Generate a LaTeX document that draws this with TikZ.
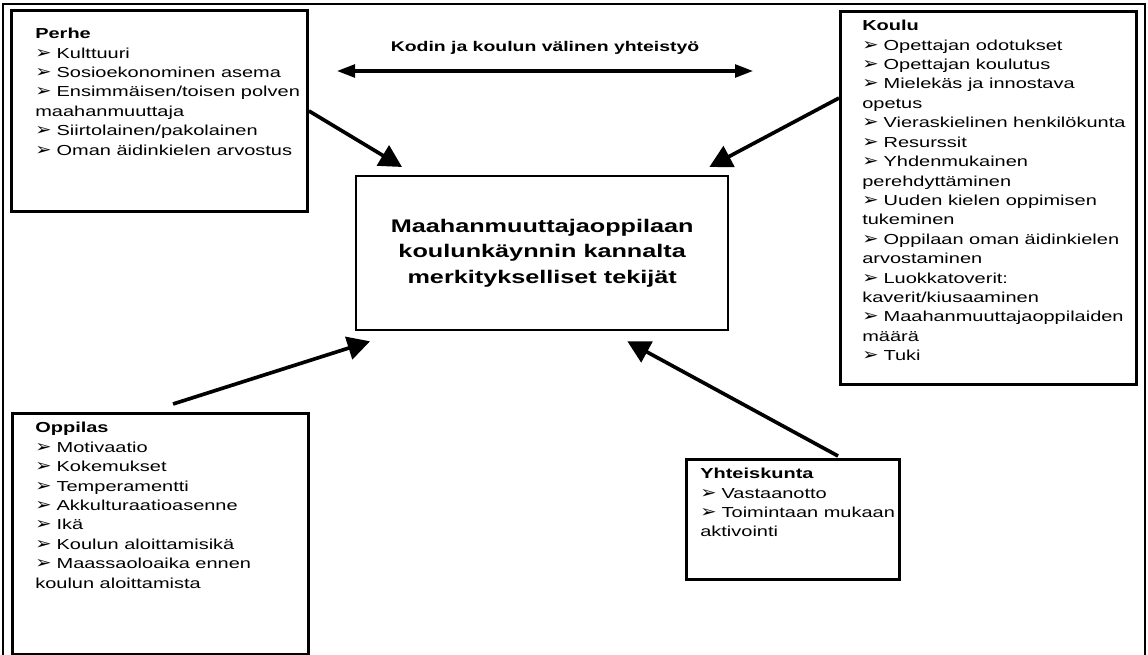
\documentclass[tikz,border=0pt]{standalone}
\usepackage{fontspec}
\setmainfont{Liberation Sans}[FakeStretch=1.38]
\newfontfamily\dingfont{DejaVu Sans}[FakeStretch=1.15]
\usetikzlibrary{arrows.meta,positioning,calc}

\newcommand{\itm}{{\dingfont\fontsize{12}{12}\selectfont ➢}\hspace{0.35em}}

\begin{document}
\begin{tikzpicture}[
    x=0.025cm, y=-0.025cm,
    factor/.style   = {rectangle, draw=black, line width=2pt, fill=white,
                       anchor=north west, inner sep=0pt},
    listtext/.style = {anchor=north west, inner sep=0pt, align=left,
                       font=\fontsize{10.3}{13.8}\selectfont},
    arrow/.style    = {-{Triangle[length=0.56cm, width=0.58cm]}, line width=2.6pt},
    twoway/.style   = {{Triangle[length=0.45cm, width=0.32cm]}-{Triangle[length=0.45cm, width=0.32cm]},
                       line width=2.2pt}
]
\useasboundingbox (0,0) rectangle (1148,655);

% outer frame (open at the bottom)
\draw[line width=1.8pt] (3,655) |- (1145,4) -- (1145,655);

% centre
\node[factor, line width=1.6pt, minimum width=9.3cm, minimum height=3.85cm,
      align=center, font=\fontsize{13}{17.9}\selectfont\bfseries]
      (cmain) at (355,175) {Maahanmuuttajaoppilaan\\
                            koulunkäynnin kannalta\\
                            merkitykselliset tekijät};

% Perhe
\node[factor, minimum width=7.4cm, minimum height=5.025cm] (perhe) at (10,9) {};
\node[listtext, below right=0.475cm and 0.625cm of perhe.north west] (perhetxt)
      {\textbf{Perhe}\\
       \itm Kulttuuri\\
       \itm Sosioekonominen asema\\
       \itm Ensimmäisen/toisen polven\\
       maahanmuuttaja\\
       \itm Siirtolainen/pakolainen\\
       \itm Oman äidinkielen arvostus};

% Koulu
\node[factor, minimum width=7.4cm, minimum height=9.325cm] (koulu) at (839,10) {};
\node[listtext, below right=0.25cm and 0.575cm of koulu.north west] (koulutxt)
      {\textbf{Koulu}\\
       \itm Opettajan odotukset\\
       \itm Opettajan koulutus\\
       \itm Mielekäs ja innostava\\
       opetus\\
       \itm Vieraskielinen henkilökunta\\
       \itm Resurssit\\
       \itm Yhdenmukainen\\
       perehdyttäminen\\
       \itm Uuden kielen oppimisen\\
       tukeminen\\
       \itm Oppilaan oman äidinkielen\\
       arvostaminen\\
       \itm Luokkatoverit:\\
       kaverit/kiusaaminen\\
       \itm Maahanmuuttajaoppilaiden\\
       määrä\\
       \itm Tuki};

% Oppilas
\node[factor, minimum width=7.4cm, minimum height=6.025cm] (oppilas) at (11,412) {};
\node[listtext, below right=0.25cm and 0.6cm of oppilas.north west] (oppilastxt)
      {\textbf{Oppilas}\\
       \itm Motivaatio\\
       \itm Kokemukset\\
       \itm Temperamentti\\
       \itm Akkulturaatioasenne\\
       \itm Ikä\\
       \itm Koulun aloittamisikä\\
       \itm Maassaoloaika ennen\\
       koulun aloittamista};

% Yhteiskunta
\node[factor, minimum width=5.325cm, minimum height=3.0cm] (yhteis) at (685,458) {};
\node[listtext, below right=0.25cm and 0.375cm of yhteis.north west] (yhteistxt)
      {\textbf{Yhteiskunta}\\
       \itm Vastaanotto\\
       \itm Toimintaan mukaan\\
       aktivointi};

% home--school cooperation
\node[font=\fontsize{10}{12}\selectfont\bfseries, inner sep=0pt] (kodin) at (545,48)
      {Kodin ja koulun välinen yhteistyö};
\coordinate (kotiend)  at (337,71);
\coordinate (kouluend) at (753,71);
\draw[twoway] (kotiend) -- (kouluend);

% Arrows
\draw[arrow] (perhe.east) -- ([xshift=1.175cm, yshift=0.2cm]cmain.north west);
\draw[arrow] ([yshift=-2.2cm]koulu.north west) -- ([xshift=-0.5cm, yshift=0.2cm]cmain.north east);
\draw[arrow] ([xshift=4.05cm, yshift=0.2cm]oppilas.north west) -- ([xshift=0.375cm, yshift=-0.25cm]cmain.south west);
\draw[arrow] ([xshift=3.825cm, yshift=0.05cm]yhteis.north west) -- ([xshift=-2.55cm, yshift=-0.25cm]cmain.south east);

\end{tikzpicture}
\end{document}
